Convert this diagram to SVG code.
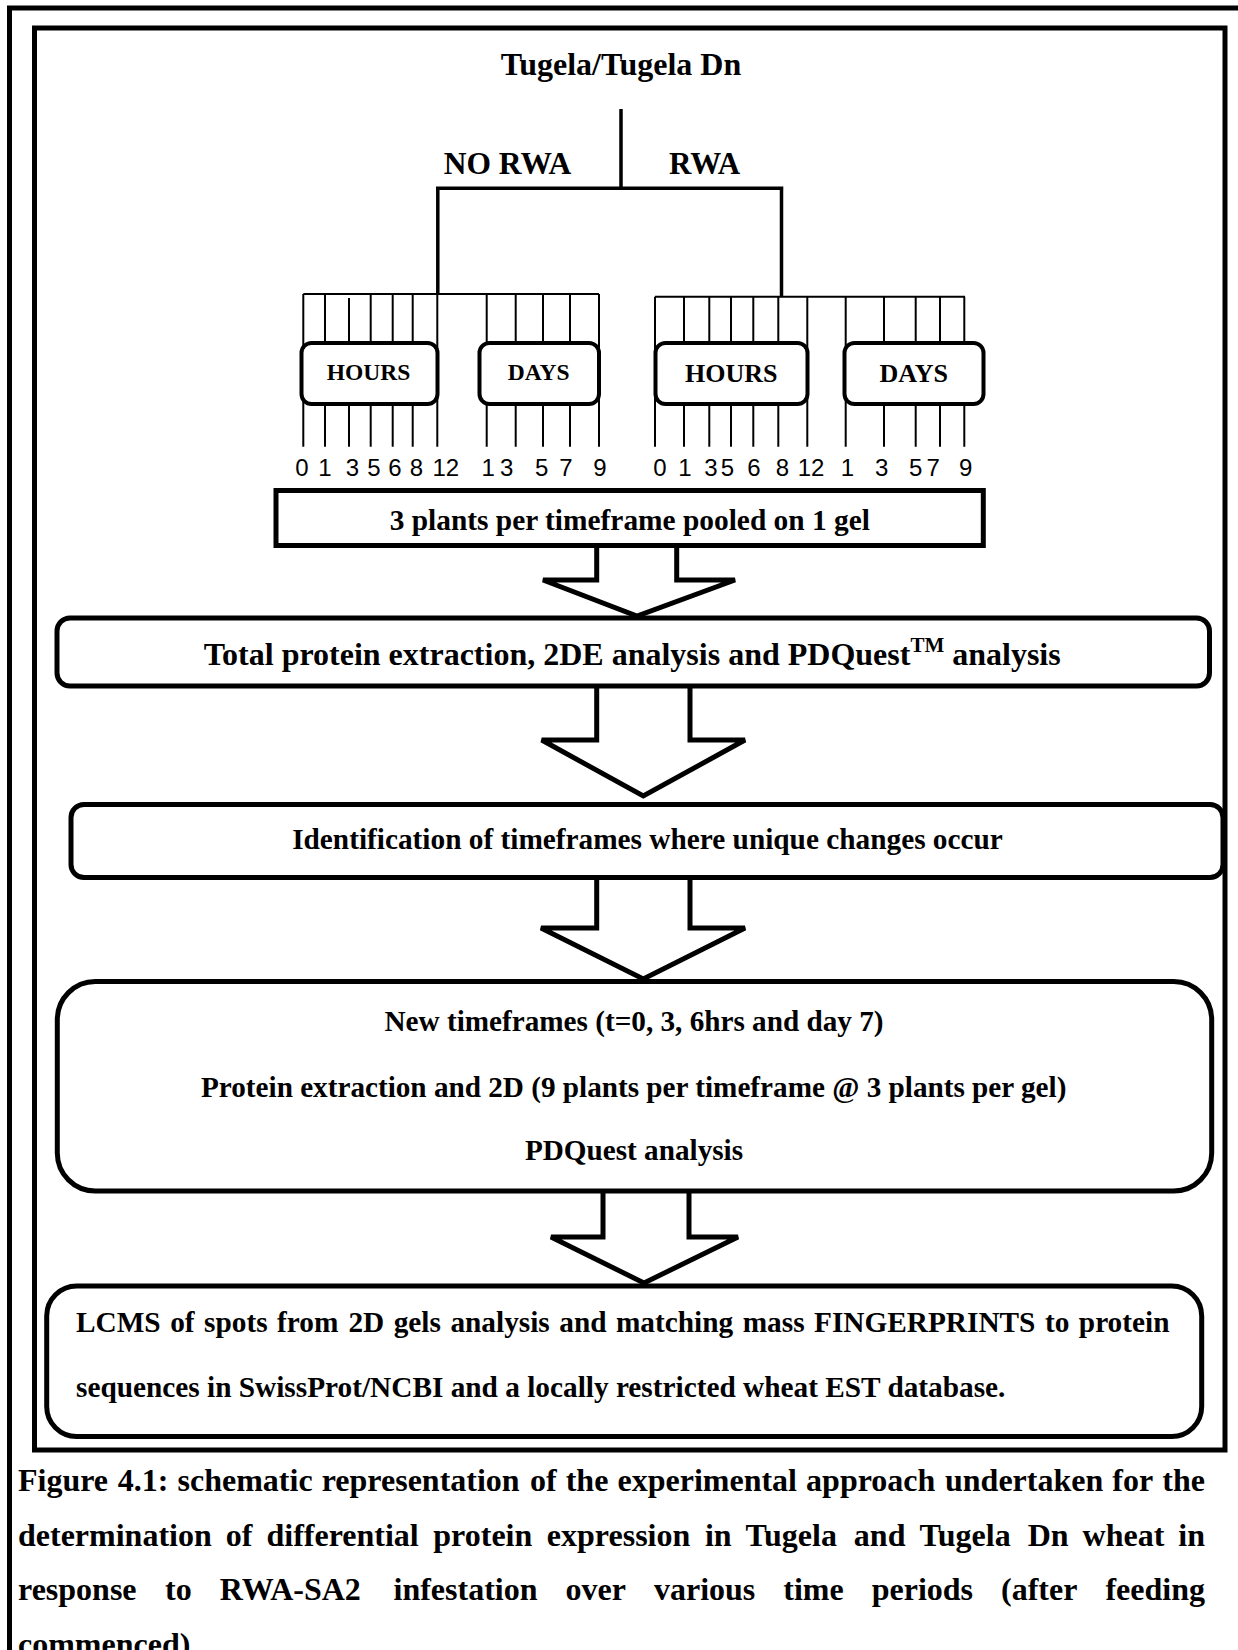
<svg xmlns="http://www.w3.org/2000/svg" width="1238" height="1650" viewBox="0 0 1238 1650">
<style>
.t{font-family:"Liberation Serif","Times New Roman",serif;font-weight:bold;fill:#000}
.m{text-anchor:middle}
.n{font-family:"Liberation Sans",Arial,sans-serif;font-size:24px;fill:#000;text-anchor:middle}
.frame{fill:none;stroke:#000;stroke-width:5}
.box{fill:#fff;stroke:#000;stroke-width:5}
.sbox{fill:#fff;stroke:#000;stroke-width:4}
.thick{fill:none;stroke:#000;stroke-width:3.5}
.thin{fill:none;stroke:#000;stroke-width:2}
.arrow{fill:#fff;stroke:#000;stroke-width:5;stroke-linejoin:miter}
</style>
<rect width="1238" height="1650" fill="#fff"/>
<g id="frames">
<rect class="frame" x="9.5" y="8" width="1300" height="1700"/>
<rect class="frame" x="34.5" y="28" width="1190.5" height="1422"/>
</g>
<g id="connectors">
<path class="thick" d="M621 109V188.3M436 188.3H783.3M437.8 188.3V294M781.5 188.3V296.7"/>
<path class="thin" d="M303.3 294H599M303.3 294V446.7M325 294V446.7M349 298V446.7M370.7 294V446.7M392.7 294V446.7M412.7 294V446.7M437.3 294V446.7M486.7 294V446.7M515.7 294V446.7M543 294V446.7M570 294V446.7M599 294V446.7"/>
<path class="thin" d="M655 296.7H965M655 296.7V446.7M684 296.7V446.7M709.3 296.7V446.7M731 296.7V446.7M753.3 296.7V446.7M778.3 296.7V446.7M807.3 296.7V446.7M845.7 296.7V446.7M884 296.7V446.7M915.7 296.7V446.7M940 296.7V446.7M964.3 296.7V446.7"/>
<path class="arrow" d="M596.7 546V580H543L637 616L735 580H676.7V546"/>
<path class="arrow" d="M596.7 686V740H541.7L643.3 796L745 740H690V686"/>
<path class="arrow" d="M596.7 877.5V928H541L643.3 979L745 928H690V877.5"/>
<path class="arrow" d="M603 1191V1237H551L644 1283L738 1237H689V1191"/>
</g>
<g id="node-title">
<text class="t m" x="621" y="75" font-size="32">Tugela/Tugela Dn</text>
</g>
<g id="node-norwa">
<text class="t m" x="507.5" y="174" font-size="31.5">NO RWA</text>
</g>
<g id="node-rwa">
<text class="t m" x="704.6" y="174" font-size="31">RWA</text>
</g>
<g id="node-hours-left">
<rect class="sbox" x="301.5" y="343" width="136" height="61" rx="10"/>
<text class="t m" x="368.5" y="380" font-size="23.5">HOURS</text>
</g>
<g id="node-days-left">
<rect class="sbox" x="479.5" y="343" width="119.5" height="61" rx="10"/>
<text class="t m" x="538.7" y="380" font-size="23.5">DAYS</text>
</g>
<g id="node-hours-right">
<rect class="sbox" x="655.5" y="343" width="152" height="61" rx="10"/>
<text class="t m" x="731.3" y="382.3" font-size="26">HOURS</text>
</g>
<g id="node-days-right">
<rect class="sbox" x="844.5" y="343" width="139" height="61" rx="10"/>
<text class="t m" x="913.8" y="382.3" font-size="26">DAYS</text>
</g>
<g id="labels-norwa">
<text class="n" x="302" y="476">0</text>
<text class="n" x="325" y="476">1</text>
<text class="n" x="352.5" y="476">3</text>
<text class="n" x="374" y="476">5</text>
<text class="n" x="395" y="476">6</text>
<text class="n" x="416.5" y="476">8</text>
<text class="n" x="445.8" y="476">12</text>
<text class="n" x="488.3" y="476">1</text>
<text class="n" x="506.7" y="476">3</text>
<text class="n" x="541.8" y="476">5</text>
<text class="n" x="566" y="476">7</text>
<text class="n" x="600" y="476">9</text>
</g>
<g id="labels-rwa">
<text class="n" x="660" y="476">0</text>
<text class="n" x="685" y="476">1</text>
<text class="n" x="711" y="476">3</text>
<text class="n" x="727.5" y="476">5</text>
<text class="n" x="754" y="476">6</text>
<text class="n" x="782.5" y="476">8</text>
<text class="n" x="811" y="476">12</text>
<text class="n" x="847.5" y="476">1</text>
<text class="n" x="881.7" y="476">3</text>
<text class="n" x="915.8" y="476">5</text>
<text class="n" x="933.3" y="476">7</text>
<text class="n" x="965.8" y="476">9</text>
</g>
<g id="node-pooled">
<rect class="box" x="276" y="490.5" width="707.3" height="55"/>
<text class="t m" x="629.8" y="530" font-size="29.4">3 plants per timeframe pooled on 1 gel</text>
</g>
<g id="node-total">
<rect class="box" x="57" y="618" width="1152.5" height="68" rx="13"/>
<text class="t m" x="632.2" y="664.5" font-size="32">Total protein extraction, 2DE analysis and PDQuest<tspan font-size="21" dy="-13">TM</tspan><tspan dy="13"> analysis</tspan></text>
</g>
<g id="node-identification">
<rect class="box" x="71" y="804.5" width="1152" height="73" rx="13"/>
<text class="t m" x="647.5" y="848.5" font-size="29.3">Identification of timeframes where unique changes occur</text>
</g>
<g id="node-new">
<rect class="box" x="57.3" y="981.5" width="1154.4" height="209.5" rx="38"/>
<text class="t m" x="634" y="1030.5" font-size="29.2">New timeframes (t=0, 3, 6hrs and day 7)</text>
<text class="t m" x="633.7" y="1096.5" font-size="29.2">Protein extraction and 2D (9 plants per timeframe @ 3 plants per gel)</text>
<text class="t m" x="634" y="1160" font-size="29.2">PDQuest analysis</text>
</g>
<g id="node-lcms">
<rect class="box" x="46.7" y="1286" width="1155" height="150.6" rx="30"/>
<text class="t" y="1331.5" font-size="29.3"><tspan x="76">LCMS</tspan><tspan x="170.16">of</tspan><tspan x="204.07">spots</tspan><tspan x="277.07">from</tspan><tspan x="348.4">2D</tspan><tspan x="393.7">gels</tspan><tspan x="450.41">analysis</tspan><tspan x="559.24">and</tspan><tspan x="615.98">matching</tspan><tspan x="742.68">mass</tspan><tspan x="814.04">FINGERPRINTS</tspan><tspan x="1044.94">to</tspan><tspan x="1078.85">protein</tspan></text>
<text class="t" x="76" y="1397" font-size="29.3">sequences in SwissProt/NCBI and a locally restricted wheat EST database.</text>
</g>
<g id="caption">
<text class="t" y="1491" font-size="32"><tspan x="18">Figure</tspan><tspan x="117.77">4.1:</tspan><tspan x="177.54">schematic</tspan><tspan x="321.73">representation</tspan><tspan x="529.92">of</tspan><tspan x="565.69">the</tspan><tspan x="617.47">experimental</tspan><tspan x="806.1">approach</tspan><tspan x="945.01">undertaken</tspan><tspan x="1112.37">for</tspan><tspan x="1162.35">the</tspan></text>
<text class="t" y="1545.5" font-size="32"><tspan x="18">determination</tspan><tspan x="225.77">of</tspan><tspan x="266.44">differential</tspan><tspan x="433.31">protein</tspan><tspan x="546.87">expression</tspan><tspan x="704.88">in</tspan><tspan x="745.58">Tugela</tspan><tspan x="853.83">and</tspan><tspan x="919.42">Tugela</tspan><tspan x="1027.67">Dn</tspan><tspan x="1082.58">wheat</tspan><tspan x="1178.35">in</tspan></text>
<text class="t" y="1600" font-size="32"><tspan x="18">response</tspan><tspan x="165.1">to</tspan><tspan x="219.76">RWA-SA2</tspan><tspan x="393.52">infestation</tspan><tspan x="565.52">over</tspan><tspan x="653.94">various</tspan><tspan x="783.28">time</tspan><tspan x="871.7">periods</tspan><tspan x="1001.04">(after</tspan><tspan x="1105.42">feeding</tspan></text>
<text class="t" x="18" y="1655" font-size="32">commenced)</text>
</g>
</svg>
